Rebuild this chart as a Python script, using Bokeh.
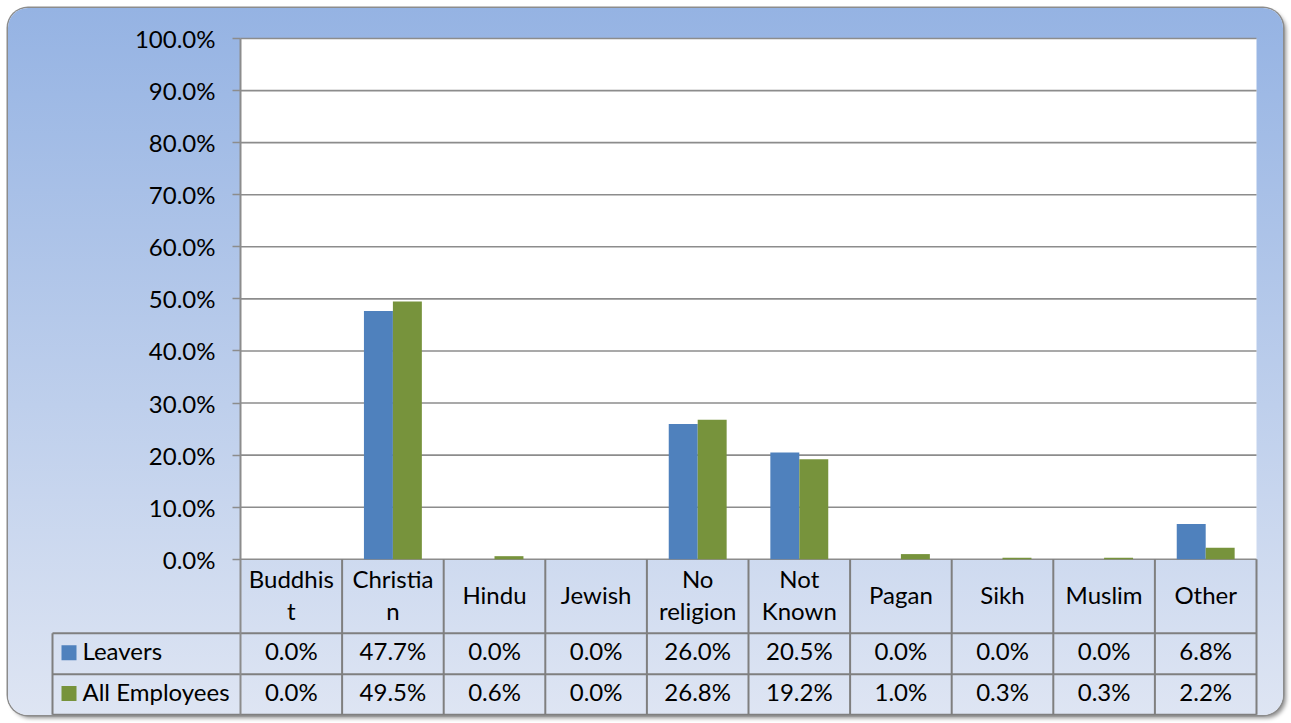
from bokeh.plotting import figure
from bokeh.models import Range1d, FixedTicker, PrintfTickFormatter
from bokeh.core.properties import value
from bokeh.embed import file_html
from bokeh.resources import INLINE

# ---------------- data ----------------
categories = ["Buddhist", "Christian", "Hindu", "Jewish", "No religion",
              "Not Known", "Pagan", "Sikh", "Muslim", "Other"]
category_labels = ["Buddhis\nt", "Christia\nn", "Hindu", "Jewish", "No\nreligion",
                   "Not\nKnown", "Pagan", "Sikh", "Muslim", "Other"]
series_names = ["Leavers", "All Employees"]
leavers = [0.0, 47.7, 0.0, 0.0, 26.0, 20.5, 0.0, 0.0, 0.0, 6.8]
all_employees = [0.0, 49.5, 0.6, 0.0, 26.8, 19.2, 1.0, 0.3, 0.3, 2.2]
y_ticks = [0, 10, 20, 30, 40, 50, 60, 70, 80, 90, 100]

# ---------------- layout constants ----------------
W, H = 1275, 707
FONT = "Lato"
FS = "24px"
BLUE, GREEN = "#4F81BD", "#77933C"
GRID = "#8C8C8C"
TXT = "#000000"

n = len(categories)
plot_left_px, plot_right_px = 232, 1248
plot_top_px, plot_bottom_px = 30, 550.8
frame_left_px, frame_right_px = 42, 1250
frame_top_px, frame_bottom_px = 12, 707
xpx = (plot_right_px - plot_left_px) / n            # px per category unit
ypx = (plot_bottom_px - plot_top_px) / 100.0        # px per percent unit

x_start = -(plot_left_px - frame_left_px) / xpx
x_end = n + (frame_right_px - plot_right_px) / xpx
y_end = 100.0 + (plot_top_px - frame_top_px) / ypx
y_start = 100.0 - (frame_bottom_px - plot_top_px) / ypx

header_left = -(plot_left_px - 44) / xpx
cat_row_bottom = -74 / ypx
row1_bottom = -(74 + 41) / ypx
row2_bottom = -(74 + 41 + 40.5) / ypx

p = figure(width=W, height=H, output_backend="svg", toolbar_location=None,
           x_range=Range1d(x_start, x_end), y_range=Range1d(y_start, y_end),
           x_axis_location=None, y_axis_location="left",
           min_border_left=frame_left_px, min_border_right=W - frame_right_px,
           min_border_top=frame_top_px, min_border_bottom=H - frame_bottom_px)
p.background_fill_alpha = 0
p.border_fill_alpha = 0
p.outline_line_color = None
p.grid.visible = False
p.styles = {
    "margin": "8px",
    "background": "linear-gradient(to bottom, #95B3E3 0%, #DEE5F3 100%)",
    "border-radius": "20px",
    "box-shadow": "0 0 0 1.5px #8C8C8C, 3px 3px 4px rgba(0,0,0,0.45)",
}

# plot area
p.quad(left=[0], right=[n], bottom=[0], top=[100], fill_color="white", line_color=None)

# gridlines
p.segment(x0=[0] * len(y_ticks), x1=[n] * len(y_ticks), y0=y_ticks, y1=y_ticks,
          line_color=GRID, line_width=1.6)

# bars
xs = list(range(n))
bw = 0.285
p.vbar(x=[i + 0.5 - bw / 2 for i in xs], width=bw, top=leavers, bottom=0,
       fill_color=BLUE, line_color=None)
p.vbar(x=[i + 0.5 + bw / 2 for i in xs], width=bw, top=all_employees, bottom=0,
       fill_color=GREEN, line_color=None)

# y axis at x = 0
ax = p.yaxis[0]
ax.fixed_location = 0
ax.bounds = (row2_bottom, 100)
ax.ticker = FixedTicker(ticks=y_ticks)
ax.formatter = PrintfTickFormatter(format="%.1f%%")
ax.axis_line_color = GRID
ax.axis_line_width = 2
ax.major_tick_line_color = GRID
ax.major_tick_line_width = 1.6
ax.major_tick_out = 8
ax.major_tick_in = 0
ax.minor_tick_line_color = None
ax.major_label_text_font = FONT
ax.major_label_text_font_size = FS
ax.major_label_text_color = TXT
ax.major_label_standoff = 17

# data table lines
TL = "#7F7F7F"
hy = [cat_row_bottom, row1_bottom, row2_bottom]
p.segment(x0=[header_left] * 3, x1=[n] * 3, y0=hy, y1=hy, line_color=TL, line_width=2)
vx = list(range(1, n + 1))
p.segment(x0=vx, x1=vx, y0=[0] * n, y1=[row2_bottom] * n, line_color=TL, line_width=2)
p.segment(x0=[header_left], x1=[header_left], y0=[cat_row_bottom], y1=[row2_bottom],
          line_color=TL, line_width=2)

# category labels
p.text(x=[i + 0.5 for i in xs], y=[cat_row_bottom / 2] * n, text=category_labels,
       text_font=value(FONT), text_font_size=FS, text_color=TXT,
       text_align="center", text_baseline="middle", text_line_height=1.12,
       y_offset=-2)

# value rows
row_mids = [(cat_row_bottom + row1_bottom) / 2, (row1_bottom + row2_bottom) / 2]
for vals, ym in zip([leavers, all_employees], row_mids):
    p.text(x=[i + 0.5 for i in xs], y=[ym] * n, text=[f"{v:.1f}%" for v in vals],
           text_font=value(FONT), text_font_size=FS, text_color=TXT,
           text_align="center", text_baseline="middle", y_offset=-3)

# row headers with legend keys
key_x = header_left + 16.5 / xpx
p.scatter(x=[key_x, key_x], y=[m + 1 / ypx for m in row_mids], marker="square", size=15,
          fill_color=[BLUE, GREEN], line_color=None)
p.text(x=[header_left + 30 / xpx] * 2, y=row_mids, text=series_names,
       text_font=value(FONT), text_font_size=FS, text_color=TXT,
       text_align="left", text_baseline="middle", y_offset=-3)

open("out.html", "w").write(file_html(p, INLINE))
